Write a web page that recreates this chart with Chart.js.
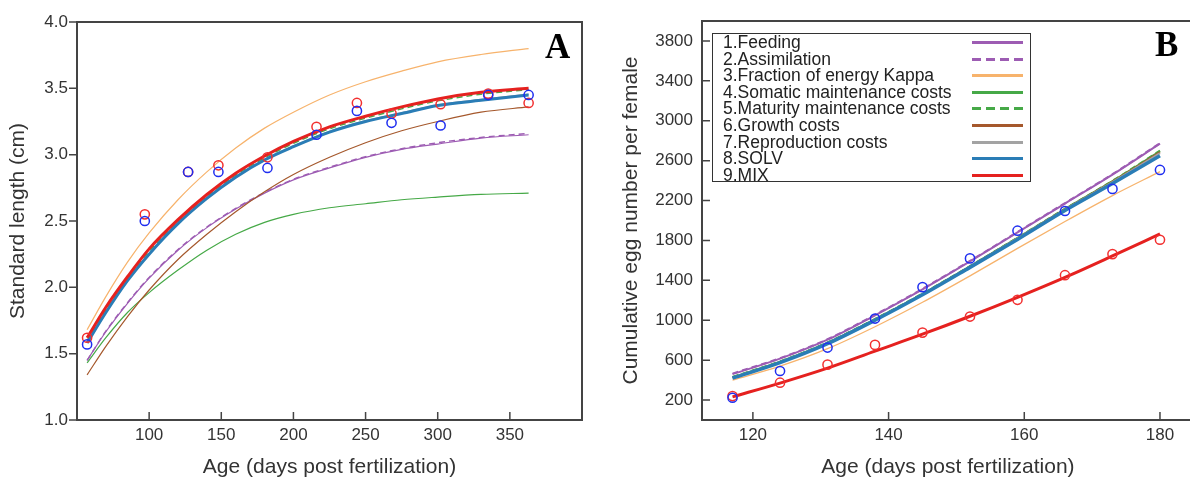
<!DOCTYPE html>
<html>
<head>
<meta charset="utf-8">
<script src="https://cdn.jsdelivr.net/npm/chart.js@4/dist/chart.umd.min.js"></script>
<style>
  html, body { margin: 0; padding: 0; background: #fff; overflow: hidden; }
  #wrap { position: relative; width: 1190px; height: 478px; overflow: hidden; font-family: "Liberation Sans", Arial, sans-serif; }
  #boxA { position: absolute; left: 0; top: 0; width: 600px; height: 478px; }
  #boxB { position: absolute; left: 600px; top: 0; width: 600px; height: 478px; }
  .tag { position: absolute; font-family: "Liberation Serif", "Times New Roman", serif; font-weight: bold; font-size: 35px; line-height: 35px; color: #000; }
  #legend { position: absolute; left: 712px; top: 33px; width: 317px; height: 147px; border: 1.5px solid #333; background: #fff; }
  #legend .row { position: relative; height: 16.6px; line-height: 16.6px; font-size: 17.5px; color: #222; padding-left: 10px; white-space: nowrap; }
  #legend .ls { position: absolute; left: 259px; width: 51px; height: 3px; top: 7px; }
</style>
</head>
<body>
<div id="wrap">
  <div id="boxA"><canvas id="chartA" width="600" height="478"></canvas></div>
  <div id="boxB"><canvas id="chartB" width="600" height="478"></canvas></div>
  <div class="tag" style="left:545px; top:29px;">A</div>
  <div class="tag" style="left:1155px; top:27px;">B</div>
  <div id="legend"></div>
</div>
<script>
// ---- panel A: standard length ----
const ageObsA = [57, 97, 127, 148, 182, 216, 244, 268, 302, 335, 363];
const obsSolvA = [1.57, 2.50, 2.87, 2.87, 2.90, 3.15, 3.33, 3.24, 3.22, 3.45, 3.45];
const obsMixA = [1.62, 2.55, 2.87, 2.92, 2.98, 3.21, 3.39, 3.31, 3.38, 3.46, 3.39];

const ageA = [57, 70, 85, 100, 120, 140, 160, 180, 200, 225, 250, 275, 300, 330, 363];
const feedA = [1.45, 1.665, 1.88, 2.07, 2.28, 2.45, 2.59, 2.71, 2.81, 2.90, 2.98, 3.04, 3.08, 3.125, 3.15];
const assimA = [1.45, 1.67, 1.885, 2.075, 2.285, 2.455, 2.595, 2.715, 2.815, 2.905, 2.985, 3.045, 3.09, 3.13, 3.16];
const kappaA = [1.68, 1.93, 2.19, 2.41, 2.66, 2.87, 3.05, 3.20, 3.32, 3.45, 3.55, 3.63, 3.70, 3.755, 3.80];
const somaA = [1.43, 1.62, 1.81, 1.96, 2.13, 2.28, 2.40, 2.49, 2.55, 2.60, 2.63, 2.66, 2.68, 2.70, 2.71];
const maturA = [1.60, 1.83, 2.065, 2.27, 2.495, 2.685, 2.845, 2.975, 3.085, 3.195, 3.275, 3.345, 3.405, 3.455, 3.49];
const growthA = [1.34, 1.555, 1.78, 1.98, 2.21, 2.40, 2.57, 2.72, 2.85, 2.98, 3.09, 3.18, 3.25, 3.32, 3.36];
const reprodA = [1.585, 1.815, 2.055, 2.255, 2.485, 2.675, 2.835, 2.965, 3.065, 3.175, 3.255, 3.315, 3.375, 3.415, 3.455];
const solvA = [1.58, 1.81, 2.05, 2.25, 2.48, 2.67, 2.83, 2.96, 3.06, 3.17, 3.25, 3.31, 3.37, 3.41, 3.45];
const mixA = [1.62, 1.85, 2.08, 2.29, 2.51, 2.70, 2.86, 2.99, 3.10, 3.21, 3.29, 3.36, 3.42, 3.47, 3.50];

const xTicksA = [100, 150, 200, 250, 300, 350];
const yTicksA = [1.0, 1.5, 2.0, 2.5, 3.0, 3.5, 4.0];

// ---- panel B: cumulative eggs ----
const ageB = [117, 124, 131, 138, 145, 152, 159, 166, 173, 180];
const obsSolvB = [223, 491, 726, 1017, 1332, 1620, 1898, 2095, 2317, 2507];
const obsMixB = [240, 374, 555, 753, 876, 1037, 1205, 1452, 1663, 1807];

const feedB = [460, 615, 805, 1050, 1310, 1590, 1880, 2170, 2460, 2770];
const assimB = [465, 620, 810, 1055, 1315, 1595, 1885, 2175, 2465, 2775];
const kappaB = [400, 540, 715, 935, 1180, 1445, 1720, 1990, 2250, 2490];
const somaB = [430, 585, 775, 1010, 1265, 1540, 1825, 2115, 2395, 2695];
const maturB = [432, 588, 778, 1013, 1268, 1543, 1828, 2118, 2398, 2700];
const growthB = [425, 580, 770, 1005, 1260, 1537, 1822, 2112, 2390, 2685];
const reprodB = [425, 580, 770, 1005, 1260, 1535, 1820, 2110, 2385, 2675];
const solvB = [420, 575, 765, 1000, 1255, 1530, 1810, 2100, 2370, 2650];
const mixB = [232, 370, 520, 690, 860, 1040, 1230, 1430, 1645, 1865];

const xTicksB = [120, 140, 160, 180];
const yTicksB = [200, 600, 1000, 1400, 1800, 2200, 2600, 3000, 3400, 3800];

const seriesNames = [
  "1.Feeding", "2.Assimilation", "3.Fraction of energy Kappa",
  "4.Somatic maintenance costs", "5.Maturity maintenance costs",
  "6.Growth costs", "7.Reproduction costs", "8.SOLV", "9.MIX"
];

// styles
const colors = ["#9d5cb3", "#9d5cb3", "#f7b36c", "#46a947", "#46a947", "#a5582c", "#a3a3a3", "#2a7db6", "#e5211f"];
const dashed = [false, true, false, false, true, false, false, false, false];
const widthsA = [1.2, 1.4, 1.2, 1.2, 1.4, 1.2, 1.5, 3, 3];
const widthsB = [2, 2, 1.3, 2, 2, 2, 2, 3.5, 3];
const ptBlue = "#1f2ef0";
const ptRed = "#f23030";

Chart.defaults.font.family = "'Liberation Sans', Arial, sans-serif";
Chart.defaults.color = "#333";

function pts(xs, ys) {
  return xs.map((x, i) => ({ x: x, y: ys[i] }));
}

function lineSets(xs, seriesList, widths) {
  // first series in list is drawn at the bottom
  return seriesList.map((ys, i) => ({
    label: seriesNames[i],
    data: pts(xs, ys),
    borderColor: colors[i],
    borderWidth: widths[i],
    borderDash: dashed[i] ? [6, 4] : [],
    pointRadius: 0,
    fill: false,
    cubicInterpolationMode: "monotone",
    order: 20 - i,
  }));
}

function obsSet(label, xs, ys, color) {
  return {
    label: label,
    data: pts(xs, ys),
    showLine: false,
    pointRadius: 4.6,
    pointBorderWidth: 1.5,
    pointBorderColor: color,
    pointBackgroundColor: "rgba(0,0,0,0)",
    order: 0,
  };
}

// frame box + inward/outward tick marks
const framePlugin = {
  id: "frame",
  afterDraw(chart, args, opts) {
    const { ctx, chartArea: a, scales } = chart;
    ctx.save();
    ctx.strokeStyle = "#444";
    ctx.lineWidth = 2;
    ctx.strokeRect(a.left, a.top, a.right - a.left, a.bottom - a.top);
    ctx.lineWidth = 1.5;
    ctx.beginPath();
    scales.x.ticks.forEach(t => {
      const px = scales.x.getPixelForValue(t.value);
      ctx.moveTo(px, a.bottom);
      ctx.lineTo(px, a.bottom - 8);
    });
    scales.y.ticks.forEach(t => {
      const py = scales.y.getPixelForValue(t.value);
      if (opts.yOut) {
        ctx.moveTo(a.left - 8, py);
        ctx.lineTo(a.left, py);
      } else {
        ctx.moveTo(a.left, py);
        ctx.lineTo(a.left + 8, py);
      }
    });
    ctx.stroke();
    ctx.restore();
  }
};

function axisX(min, max, tickList, title) {
  return {
    type: "linear",
    min: min,
    max: max,
    afterBuildTicks: s => { s.ticks = tickList.map(v => ({ value: v })); },
    afterFit: s => { s.height = 58; },
    grid: { display: false, drawTicks: false },
    border: { display: false },
    ticks: { font: { size: 17 }, padding: 5, maxRotation: 0, autoSkip: false, color: "#333" },
    title: { display: true, text: title, font: { size: 21, lineHeight: 1.0 }, color: "#333", padding: { top: 0, bottom: 0 } },
  };
}

function axisY(min, max, tickList, title, width, titlePad, fmt) {
  return {
    min: min,
    max: max,
    afterBuildTicks: s => { s.ticks = tickList.map(v => ({ value: v })); },
    afterFit: s => { s.width = width; },
    grid: { display: false, drawTicks: false },
    border: { display: false },
    ticks: { font: { size: 17 }, padding: 9, color: "#333", callback: fmt },
    title: { display: true, text: title, font: { size: 21 }, color: "#333", padding: { top: titlePad, bottom: 0 } },
  };
}

new Chart(document.getElementById("chartA"), {
  type: "line",
  data: {
    datasets: [
      obsSet("obs SOLV", ageObsA, obsSolvA, ptBlue),
      obsSet("obs MIX", ageObsA, obsMixA, ptRed),
    ].concat(lineSets(ageA, [feedA, assimA, kappaA, somaA, maturA, growthA, reprodA, solvA, mixA], widthsA)),
  },
  options: {
    responsive: false,
    animation: false,
    layout: { padding: { left: 0, right: 18, top: 22, bottom: 0 } },
    plugins: { legend: { display: false }, tooltip: { enabled: false }, frame: { yOut: true } },
    scales: {
      x: axisX(50, 400, xTicksA, "Age (days post fertilization)"),
      y: axisY(1, 4, yTicksA, "Standard length (cm)", 77, 6, v => Number(v).toFixed(1)),
    },
  },
  plugins: [framePlugin],
});

new Chart(document.getElementById("chartB"), {
  type: "line",
  data: {
    datasets: [
      obsSet("obs SOLV", ageB, obsSolvB, ptBlue),
      obsSet("obs MIX", ageB, obsMixB, ptRed),
    ].concat(lineSets(ageB, [feedB, assimB, kappaB, somaB, maturB, growthB, reprodB, solvB, mixB], widthsB)),
  },
  options: {
    responsive: false,
    animation: false,
    layout: { padding: { left: 0, right: 4, top: 21, bottom: 0 } },
    plugins: { legend: { display: false }, tooltip: { enabled: false }, frame: { yOut: false } },
    scales: {
      x: axisX(112.5, 185, xTicksB, "Age (days post fertilization)"),
      y: axisY(0, 4000, yTicksB, "Cumulative egg number per female", 102, 19, v => String(v)),
    },
  },
  plugins: [framePlugin],
});

// legend box for panel B
const legendEl = document.getElementById("legend");
seriesNames.forEach((name, i) => {
  const row = document.createElement("div");
  row.className = "row";
  const txt = document.createElement("span");
  txt.textContent = name;
  const sample = document.createElement("span");
  sample.className = "ls";
  sample.style.background = dashed[i]
    ? `repeating-linear-gradient(to right, ${colors[i]} 0 9px, transparent 9px 14px)`
    : colors[i];
  row.appendChild(txt);
  row.appendChild(sample);
  legendEl.appendChild(row);
});
</script>
</body>
</html>
